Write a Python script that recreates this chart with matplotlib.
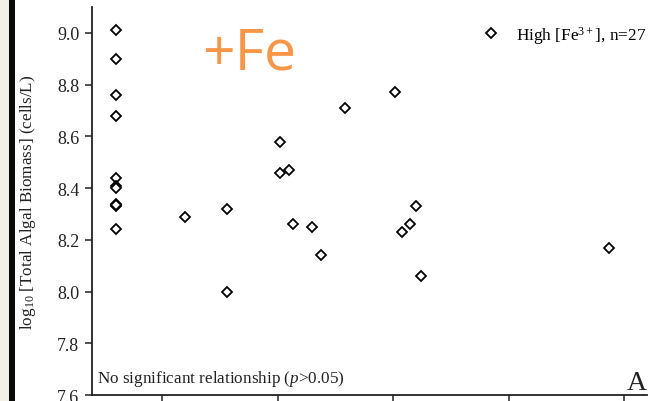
import matplotlib
matplotlib.use("Agg")
import matplotlib.pyplot as plt
from matplotlib.patches import Rectangle

plt.rcParams["font.family"] = ["Liberation Serif", "DejaVu Serif"]
plt.rcParams["mathtext.fontset"] = "custom"
plt.rcParams["mathtext.rm"] = "Liberation Serif"
plt.rcParams["mathtext.it"] = "Liberation Serif:italic"
plt.rcParams["mathtext.default"] = "regular"

# High Fe3+ treatment: x position (axis units) and log10 total algal biomass
fe_x = [0.60, 0.60, 0.60, 0.60, 0.60, 0.60, 0.60, 0.60, 0.60, 0.60,
        1.20, 1.56, 1.56, 2.02, 2.02, 2.10, 2.13, 2.30, 2.38, 2.58,
        3.02, 3.08, 3.15, 3.20, 3.24, 4.87]
fe_y = [9.01, 8.90, 8.76, 8.68, 8.44, 8.41, 8.40, 8.34, 8.33, 8.24,
        8.29, 8.32, 8.00, 8.58, 8.46, 8.47, 8.26, 8.25, 8.14, 8.71,
        8.77, 8.23, 8.26, 8.33, 8.06, 8.17]
# one overlapping point in the left column
fe_x.append(0.60)
fe_y.append(8.335)

x_ticks = [1, 2, 3, 4, 5]
y_ticks = [7.6, 7.8, 8.0, 8.2, 8.4, 8.6, 8.8, 9.0]

fig = plt.figure(figsize=(6.56, 4.02), dpi=100)
ax = fig.add_axes([0.1402, 0.0149, 0.8461, 0.9651])

# slide border strip on the left edge
fig.patches.append(Rectangle((0, 0), 9 / 656, 1, transform=fig.transFigure,
                             facecolor="#f3f1e6", edgecolor="none", zorder=0))
fig.patches.append(Rectangle((9 / 656, 0), 6 / 656, 1, transform=fig.transFigure,
                             facecolor="#0a0a0a", edgecolor="none", zorder=0))

ax.plot(fe_x, fe_y, linestyle="none", marker="D", markersize=5.2,
        markerfacecolor="white", markeredgecolor="black", markeredgewidth=1.3,
        label="High [Fe$^{3+}$], n=27", clip_on=False)

ax.set_xlim(0.395, 5.196)
ax.set_ylim(7.6, 9.1)
ax.set_xticks(x_ticks)
ax.set_xticklabels([""] * len(x_ticks))
ax.set_yticks(y_ticks)
ax.set_yticklabels([f"{v:.1f}" for v in y_ticks])

for side in ("top", "right"):
    ax.spines[side].set_visible(False)
for side in ("left", "bottom"):
    ax.spines[side].set_linewidth(1.3)
    ax.spines[side].set_color("#222222")
ax.tick_params(direction="out", length=5, width=1.1, color="#222222",
               labelsize=13, pad=4, labelcolor="#222222")

ax.set_ylabel("log$_{10}$ [Total Algal Biomass] (cells/L)", fontsize=12.3, color="#222222")
ax.yaxis.set_label_coords(-0.098, 0.5)

ax.legend(loc="upper right", frameon=False, fontsize=12.4, handletextpad=0.5,
          bbox_to_anchor=(1.027, 0.997), markerscale=1.0)

ax.text(0.009, 0.018, "No significant relationship ($\\mathit{p}$>0.05)",
        transform=ax.transAxes, fontsize=12.3, color="#222222", va="bottom")
ax.text(1.0, 0.0, "A", transform=ax.transAxes, fontsize=20, color="#222222",
        ha="right", va="bottom")

fig.text(202 / 656, 1 - 70 / 402, "+Fe", fontsize=41, color="#f79646",
         family=["Open Sans", "DejaVu Sans"], va="baseline", ha="left")

fig.savefig("out.png", dpi=100, facecolor="white")
